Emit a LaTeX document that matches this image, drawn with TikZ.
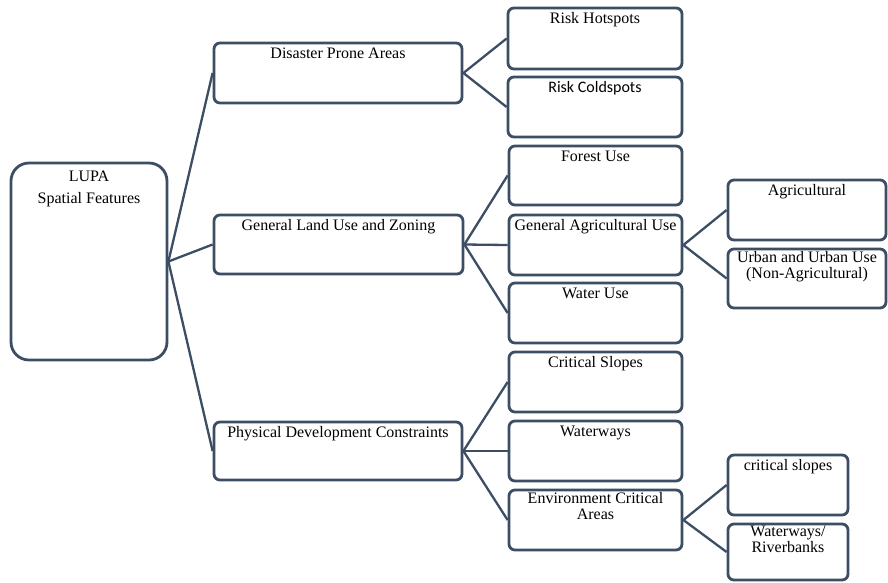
\documentclass[tikz,border=0pt]{standalone}
\usepackage{fontspec}
\setmainfont{Liberation Serif}
\newfontfamily\calib{Carlito}
\definecolor{edge}{RGB}{60,77,100}
\begin{document}
\begin{tikzpicture}[x=1pt,y=-1pt,
  box/.style={draw=edge, line width=2.8pt, rounded corners=6pt, fill=white, inner sep=0pt},
  txt/.style={font=\fontsize{16}{16}\selectfont, inner sep=0pt, align=center},
  conn/.style={draw=edge, line width=2.3pt}]
\useasboundingbox (0,0) rectangle (888,582);
% level 0
\node[box, minimum width=156pt, minimum height=197pt, rounded corners=18pt] (lupa) at (89,261.5) {};
% level 1
\node[box, minimum width=248pt, minimum height=60pt] (dpa) at (338,73) {};
\node[box, minimum width=249pt, minimum height=59pt] (glu) at (338.5,244.5) {};
\node[box, minimum width=248pt, minimum height=58pt] (pdc) at (338,451) {};
% level 2
\node[box, minimum width=174pt, minimum height=61pt] (rh) at (595,38.5) {};
\node[box, minimum width=174pt, minimum height=60pt] (rc) at (595,107) {};
\node[box, minimum width=173pt, minimum height=59pt] (forest) at (595.5,175.5) {};
\node[box, minimum width=173pt, minimum height=60pt] (gau) at (595.5,245) {};
\node[box, minimum width=173pt, minimum height=60pt] (water) at (595.5,313) {};
\node[box, minimum width=173pt, minimum height=60pt] (cs) at (595.5,382) {};
\node[box, minimum width=173pt, minimum height=60pt] (ww) at (595.5,451) {};
\node[box, minimum width=173pt, minimum height=60pt] (eca) at (595.5,520) {};
% level 3
\node[box, minimum width=158pt, minimum height=60pt] (agri) at (807,210) {};
\node[box, minimum width=158pt, minimum height=59pt] (urban) at (807,278.5) {};
\node[box, minimum width=120pt, minimum height=60pt] (csl) at (788,485) {};
\node[box, minimum width=120pt, minimum height=56pt] (wr) at (788,552) {};
% connectors
\draw[conn] (lupa.east) -- (dpa.west);
\draw[conn] (lupa.east) -- (glu.west);
\draw[conn] (lupa.east) -- (pdc.west);
\draw[conn] (dpa.east) -- (rh.west);
\draw[conn] (dpa.east) -- (rc.west);
\draw[conn] (glu.east) -- (forest.west);
\draw[conn] (glu.east) -- (gau.west);
\draw[conn] (glu.east) -- (water.west);
\draw[conn] (pdc.east) -- (cs.west);
\draw[conn] (pdc.east) -- (ww.west);
\draw[conn] (pdc.east) -- (eca.west);
\draw[conn] (gau.east) -- (agri.west);
\draw[conn] (gau.east) -- (urban.west);
\draw[conn] (eca.east) -- (csl.west);
\draw[conn] (eca.east) -- (wr.west);
% texts
\node[txt, anchor=base] (lupa-t1) at ([yshift=-20pt]lupa.north) {LUPA};
\node[txt, anchor=base] (lupa-t2) at ([yshift=-42pt]lupa.north) {Spatial Features};
\node[txt, anchor=base] (dpa-t) at ([yshift=-16.5pt]dpa.north) {Disaster Prone Areas};
\node[txt, anchor=base] (glu-t) at ([yshift=-17pt]glu.north) {General Land Use and Zoning};
\node[txt, anchor=base] (pdc-t) at ([yshift=-17pt]pdc.north) {Physical Development Constraints};
\node[txt, anchor=base] (rh-t) at ([yshift=-17pt]rh.north) {Risk Hotspots};
\node[txt, anchor=base, font=\calib\fontsize{16}{16}\selectfont] (rc-t) at ([yshift=-17pt]rc.north) {Risk Coldspots};
\node[txt, anchor=base] (forest-t) at ([yshift=-17pt]forest.north) {Forest Use};
\node[txt, anchor=base] (gau-t) at ([yshift=-17pt]gau.north) {General Agricultural Use};
\node[txt, anchor=base] (water-t) at ([yshift=-17pt]water.north) {Water Use};
\node[txt, anchor=base] (cs-t) at ([yshift=-17pt]cs.north) {Critical Slopes};
\node[txt, anchor=base] (ww-t) at ([yshift=-17pt]ww.north) {Waterways};
\node[txt, anchor=north] (eca-t) at ([yshift=-4pt]eca.north) {Environment Critical\\Areas};
\node[txt, anchor=base] (agri-t) at ([yshift=-17pt]agri.north) {Agricultural};
\node[txt, anchor=north] (urban-t) at ([yshift=-4pt]urban.north) {Urban and Urban Use\\(Non-Agricultural)};
\node[txt, anchor=base] (csl-t) at ([yshift=-17pt]csl.north) {critical slopes};
\node[txt, anchor=north] (wr-t) at ([yshift=-3pt]wr.north) {Waterways/\\Riverbanks};
\end{tikzpicture}
\end{document}
